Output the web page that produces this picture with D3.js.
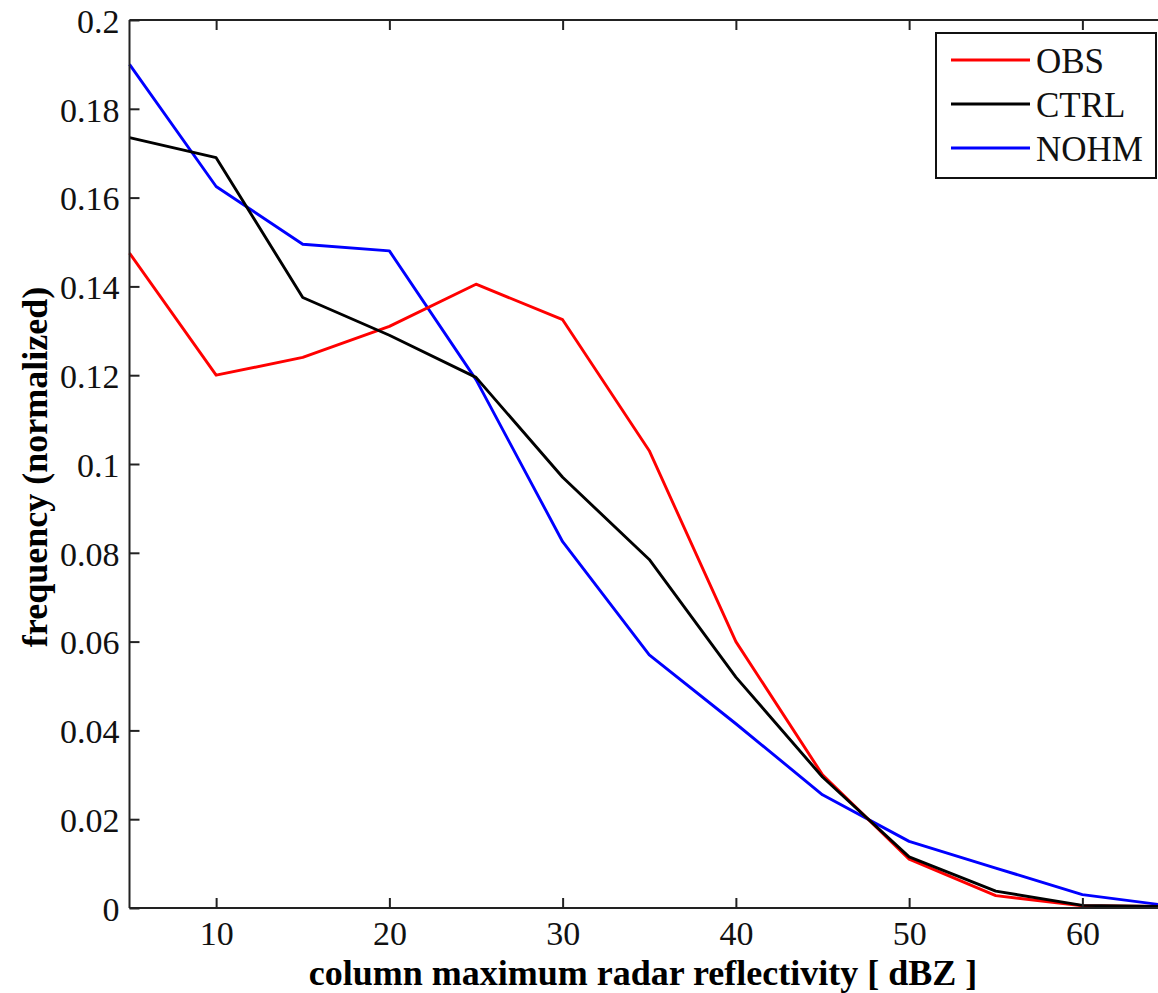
<!DOCTYPE html>
<html><head><meta charset="utf-8">
<script src="https://cdn.jsdelivr.net/npm/d3@7"></script>
<style>body{margin:0;background:#fff}svg{display:block}</style>
</head><body>
<svg id="c" width="1158" height="993"></svg>
<script>
const xVals = [5,10,15,20,25,30,35,40,45,50,55,60,65];
const obs  = [0.1475,0.1200,0.1240,0.1310,0.1405,0.1325,0.1030,0.0600,0.0300,0.0110,0.0028,0.0005,0.0003];
const ctrl = [0.1735,0.1690,0.1375,0.1290,0.1195,0.0970,0.0785,0.0520,0.0295,0.0115,0.0038,0.0006,0.0003];
const nohm = [0.1900,0.1625,0.1495,0.1480,0.1190,0.0825,0.0570,0.0415,0.0255,0.0150,0.0090,0.0030,0.0005];
const xTicks = [10,20,30,40,50,60];
const yTicks = [0,0.02,0.04,0.06,0.08,0.1,0.12,0.14,0.16,0.18,0.2];
const seriesNames = ["OBS","CTRL","NOHM"];
const seriesColors = ["#ff0000","#000000","#0000ff"];
const seriesData = [obs, ctrl, nohm];

const svg = d3.select("#c");
const L=129.5, R=1169, T=20, B=908;
const x = d3.scaleLinear().domain([5,65]).range([L,R]);
const y = d3.scaleLinear().domain([0,0.2]).range([B,T]);
const font = "'Liberation Serif','Times New Roman',serif";

const line = d3.line().x((d,i)=>x(xVals[i])).y(d=>y(d));
[2,0,1].forEach(k=>{
  svg.append("path").datum(seriesData[k]).attr("d",line)
    .attr("fill","none").attr("stroke",seriesColors[k]).attr("stroke-width",2.9)
    .attr("stroke-linejoin","round");
});

const ax = svg.append("g").attr("transform",`translate(0,${B})`)
  .call(d3.axisBottom(x).tickValues(xTicks).tickSize(-10).tickPadding(13).tickSizeOuter(0));
const axT = svg.append("g").attr("transform",`translate(0,${T})`)
  .call(d3.axisTop(x).tickValues(xTicks).tickSize(-10).tickFormat("").tickSizeOuter(0));
const ay = svg.append("g").attr("transform",`translate(${L},0)`)
  .call(d3.axisLeft(y).tickValues(yTicks).tickSize(-10).tickPadding(10).tickSizeOuter(0)
    .tickFormat(d=>d===0?"0":String(+d.toFixed(2))));
[ax,axT,ay].forEach(g=>{
  g.selectAll("path.domain").attr("stroke","#222").attr("stroke-width",2);
  g.selectAll("line").attr("stroke","#222").attr("stroke-width",2);
  g.selectAll("text").attr("font-family",font).attr("font-size",34).attr("fill","#111");
});
ax.selectAll("path.domain").attr("d",`M${L},0H${R}`);
axT.selectAll("path.domain").attr("d",`M${L},0H${R}`);
ay.selectAll("path.domain").attr("d",`M0,${T}V${B}`);
ay.selectAll("text").attr("dy","0.36em");

svg.append("text").attr("x",643).attr("y",985).attr("text-anchor","middle")
  .attr("font-family",font).attr("font-weight","bold").attr("font-size",36)
  .text("column maximum radar reflectivity [ dBZ ]");
svg.append("text").attr("transform","translate(47,467) rotate(-90)").attr("text-anchor","middle")
  .attr("font-family",font).attr("font-weight","bold").attr("font-size",36)
  .text("frequency (normalized)");

const lg = svg.append("g");
lg.append("rect").attr("x",936).attr("y",33).attr("width",220).attr("height",145)
  .attr("fill","#fff").attr("stroke","#111").attr("stroke-width",2);
seriesNames.forEach((n,i)=>{
  const yy = 60 + i*44;
  lg.append("line").attr("x1",951).attr("x2",1030).attr("y1",yy).attr("y2",yy)
    .attr("stroke",seriesColors[i]).attr("stroke-width",2.9);
  lg.append("text").attr("x",1036).attr("y",yy).attr("dy","0.36em")
    .attr("font-family",font).attr("font-size",35).attr("fill","#111").text(n);
});
</script>
</body></html>
